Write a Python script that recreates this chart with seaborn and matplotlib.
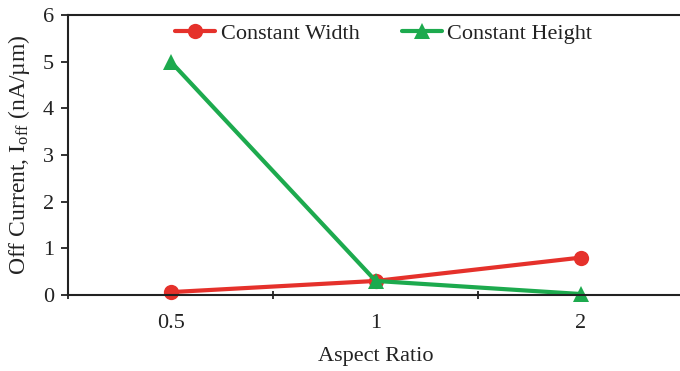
import matplotlib
matplotlib.use("Agg")
import matplotlib.pyplot as plt
import seaborn as sns
import pandas as pd

# Data
aspect_ratio = ["0.5", "1", "2"]
constant_width = [0.06, 0.30, 0.80]
constant_height = [5.0, 0.30, 0.02]
series_names = ["Constant Width", "Constant Height"]
y_ticks = [0, 1, 2, 3, 4, 5, 6]

sns.set_theme(style="white")
plt.rcParams["font.family"] = ["Liberation Serif", "DejaVu Serif"]
plt.rcParams["mathtext.fontset"] = "custom"
plt.rcParams["mathtext.rm"] = "Liberation Serif"
plt.rcParams["mathtext.it"] = "Liberation Serif:italic"

df = pd.DataFrame({
    "Aspect Ratio": aspect_ratio * 2,
    "Ioff": constant_width + constant_height,
    "Series": [series_names[0]] * 3 + [series_names[1]] * 3,
})

fig = plt.figure(figsize=(6.8, 3.71), dpi=100)
ax = fig.add_axes([0.1, 0.205, 0.905, 0.755])

palette = {series_names[0]: "#E5312B", series_names[1]: "#1DAA4E"}
markers = {series_names[0]: "o", series_names[1]: "^"}
sns.lineplot(data=df, x="Aspect Ratio", y="Ioff", hue="Series", style="Series",
             markers=markers, dashes=False, palette=palette, linewidth=3.0,
             markersize=11, markeredgewidth=0, ax=ax, sort=False)
for line in ax.lines:
    line.set_clip_on(False)

ax.set_xlim(-0.5, 2.5)
ax.set_ylim(0, 6)
ax.set_yticks(y_ticks)
ax.set_yticklabels([str(t) for t in y_ticks])
ax.set_xticks([0, 1, 2])
ax.set_xticklabels(aspect_ratio)
ax.set_xticks([-0.5, 0.5, 1.5, 2.5], minor=True)
ax.tick_params(axis="x", which="major", length=0, labelsize=16, pad=14, colors="#222222")
ax.tick_params(axis="x", which="minor", length=6, width=1.3, direction="inout", color="#222222", bottom=True)
ax.tick_params(axis="y", length=5, width=1.3, direction="out", labelsize=16, colors="#222222", left=True, pad=5)

for side in ["left", "bottom", "top"]:
    ax.spines[side].set_color("#222222")
    ax.spines[side].set_linewidth(1.5)
ax.spines["right"].set_visible(False)

ax.set_xlabel("Aspect Ratio", fontsize=16, color="#222222", labelpad=10)
ax.set_ylabel(r"Off Current, I$_{\mathrm{off}}$ (nA/µm)", fontsize=17, color="#222222", labelpad=8)

leg = ax.legend(loc="upper center", bbox_to_anchor=(0.513, 1.04), ncol=2, frameon=False,
                fontsize=16, handlelength=1.8, columnspacing=1.9, handletextpad=0.25)
for t in leg.get_texts():
    t.set_color("#222222")
for h in leg.legend_handles:
    h.set_linewidth(3.0)
    h.set_markersize(11)

fig.savefig("out.png", dpi=100)
